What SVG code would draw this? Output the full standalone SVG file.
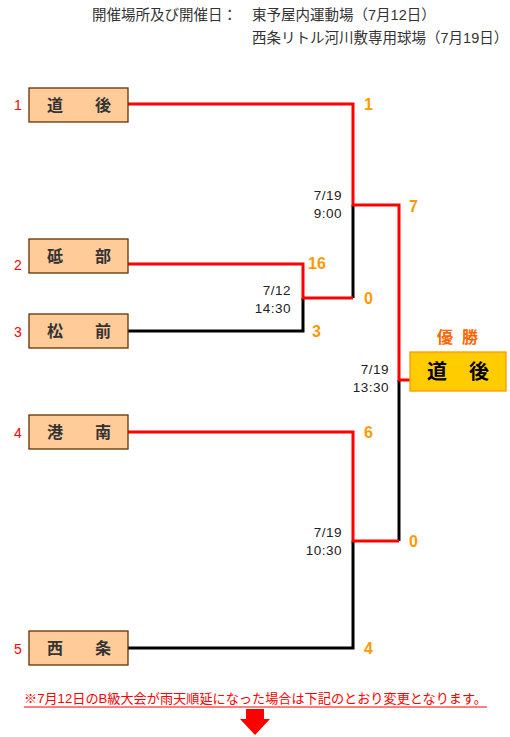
<svg xmlns="http://www.w3.org/2000/svg" width="510" height="737" viewBox="0 0 510 737">
<style>
text{font-family:"Liberation Sans","Noto Sans CJK JP",sans-serif}
.hd{font-size:14.5px;fill:#333}
.box{fill:#FFCC99;stroke:#663300;stroke-width:1.3}
.tn{font-size:16px;font-weight:bold;fill:#333;text-anchor:middle;font-family:"Noto Sans CJK JP",sans-serif}
.seed{font-size:14px;fill:#f00;text-anchor:middle}
.sc{font-size:16px;font-weight:bold;fill:#FF9900}
.dt{font-size:13.5px;fill:#222;text-anchor:end;letter-spacing:0.5px}
.r{stroke:#f00;stroke-width:3;fill:none}
.k{stroke:#000;stroke-width:3;fill:none}
</style>
<g id="header">
<text class="hd" x="92" y="20">開催場所及び開催日：<tspan x="252">東予屋内運動場（7月12日）</tspan></text>
<text class="hd" x="252" y="43">西条リトル河川敷専用球場（7月19日）</text>
</g>
<g id="connectors">
<polyline class="k" points="128,331 303,331 303,298"/>
<polyline class="k" points="353,298 353,205"/>
<polyline class="k" points="128,648 353,648 353,541"/>
<polyline class="k" points="399,541 399,380"/>
<polyline class="r" points="128,104 353,104 353,205 399,205 399,380 410,380"/>
<polyline class="r" points="128,264 303,264 303,298 353,298"/>
<polyline class="r" points="128,432 353,432 353,541 399,541"/>
</g>
<g id="team1"><text class="seed" x="18" y="110">1</text><rect class="box" x="29" y="88" width="99" height="34"/><text class="tn" x="55" y="111">道</text><text class="tn" x="103" y="111">後</text></g>
<g id="team2"><text class="seed" x="18" y="270">2</text><rect class="box" x="29" y="239" width="99" height="34"/><text class="tn" x="55" y="262">砥</text><text class="tn" x="103" y="262">部</text></g>
<g id="team3"><text class="seed" x="18" y="337">3</text><rect class="box" x="29" y="314" width="99" height="34"/><text class="tn" x="55" y="337">松</text><text class="tn" x="103" y="337">前</text></g>
<g id="team4"><text class="seed" x="18" y="438">4</text><rect class="box" x="29" y="415" width="99" height="34"/><text class="tn" x="55" y="438">港</text><text class="tn" x="103" y="438">南</text></g>
<g id="team5"><text class="seed" x="18" y="654">5</text><rect class="box" x="29" y="631" width="99" height="34"/><text class="tn" x="55" y="654">西</text><text class="tn" x="103" y="654">条</text></g>
<g id="scores">
<text class="sc" x="364" y="110">1</text>
<text class="sc" x="409" y="212">7</text>
<text class="sc" x="308" y="269">16</text>
<text class="sc" x="364" y="304">0</text>
<text class="sc" x="312" y="337">3</text>
<text class="sc" x="364" y="438">6</text>
<text class="sc" x="409" y="547">0</text>
<text class="sc" x="364" y="654">4</text>
</g>
<g id="dates">
<text class="dt" x="342" y="200">7/19</text><text class="dt" x="342" y="218">9:00</text>
<text class="dt" x="291" y="295">7/12</text><text class="dt" x="291" y="313">14:30</text>
<text class="dt" x="389" y="374">7/19</text><text class="dt" x="389" y="392">13:30</text>
<text class="dt" x="342" y="537">7/19</text><text class="dt" x="342" y="555">10:30</text>
</g>
<g id="champion">
<text x="445" y="343" style="font-size:16px;font-weight:bold;fill:#FF6600;text-anchor:middle;font-family:'Noto Sans CJK JP',sans-serif">優</text>
<text x="470" y="343" style="font-size:16px;font-weight:bold;fill:#FF6600;text-anchor:middle;font-family:'Noto Sans CJK JP',sans-serif">勝</text>
<rect x="410" y="352" width="96" height="39" fill="#FFCC00" stroke="#FF9900" stroke-width="1.3"/>
<text x="437" y="379" style="font-size:20px;font-weight:bold;fill:#000;text-anchor:middle;font-family:'Noto Sans CJK JP',sans-serif">道</text>
<text x="479" y="379" style="font-size:20px;font-weight:bold;fill:#000;text-anchor:middle;font-family:'Noto Sans CJK JP',sans-serif">後</text>
</g>
<g id="note">
<text x="24" y="703" style="font-size:13px;fill:#f00" textLength="463" lengthAdjust="spacingAndGlyphs">※7月12日のB級大会が雨天順延になった場合は下記のとおり変更となります。</text>
<line x1="24" y1="707" x2="487" y2="707" stroke="#f00" stroke-width="1"/>
<polygon points="246,709 264,709 264,719 270,719 255,735 240,719 246,719" fill="#f00"/>
</g>
</svg>
